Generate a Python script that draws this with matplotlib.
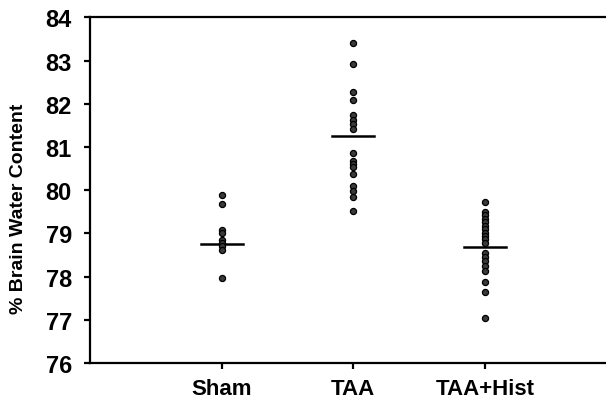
import matplotlib
matplotlib.use("Agg")
import matplotlib.pyplot as plt

plt.rcParams['font.family'] = ['Liberation Sans', 'DejaVu Sans']

categories = ["Sham", "TAA", "TAA+Hist"]
sham = [79.88, 79.67, 79.08, 79.00, 78.85, 78.78, 78.70, 78.62, 77.97]
taa = [83.40, 82.92, 82.28, 82.08, 81.74, 81.62, 81.52, 81.41, 80.87, 80.67,
       80.60, 80.53, 80.38, 80.09, 79.97, 79.85, 79.51]
taa_hist = [79.72, 79.50, 79.42, 79.34, 79.26, 79.18, 79.10, 79.02, 78.94,
            78.86, 78.78, 78.55, 78.45, 78.35, 78.25, 78.14, 77.87, 77.65, 77.03]
group_lines = [78.76, 81.25, 78.69]
yticks = [76, 77, 78, 79, 80, 81, 82, 83, 84]

groups = [sham, taa, taa_hist]

fig = plt.figure(figsize=(6.06, 4.02), dpi=100)
ax = fig.add_axes([0.1485, 0.0945, 0.8515, 0.86])

for i, vals in enumerate(groups):
    x = i + 1
    ax.plot([x] * len(vals), vals, linestyle='none', marker='o', markersize=4.4,
            markerfacecolor='#3a3a3a', markeredgecolor='black', markeredgewidth=0.9,
            zorder=3)
    ax.plot([x - 0.16, x + 0.16], [group_lines[i]] * 2, color='black', linewidth=1.8,
            zorder=2)

ax.set_xlim(0, 3.92)
ax.set_ylim(76, 84)
ax.set_yticks(yticks)
ax.set_yticklabels([str(t) for t in yticks])
ax.set_xticks([1, 2, 3])
ax.set_xticklabels(categories)

for s in ['left', 'bottom', 'top']:
    ax.spines[s].set_linewidth(1.6)
ax.spines['right'].set_visible(False)

ax.tick_params(axis='y', direction='out', length=4, width=1.6, pad=9,
               labelsize=17)
ax.tick_params(axis='x', direction='out', length=4, width=1.6, pad=7,
               labelsize=16)
for lab in ax.get_yticklabels() + ax.get_xticklabels():
    lab.set_fontweight('bold')

ax.set_ylabel('% Brain Water Content', fontsize=14, fontweight='bold')
ax.yaxis.set_label_coords(-0.122, 0.45)

fig.savefig('out.png', dpi=100)
